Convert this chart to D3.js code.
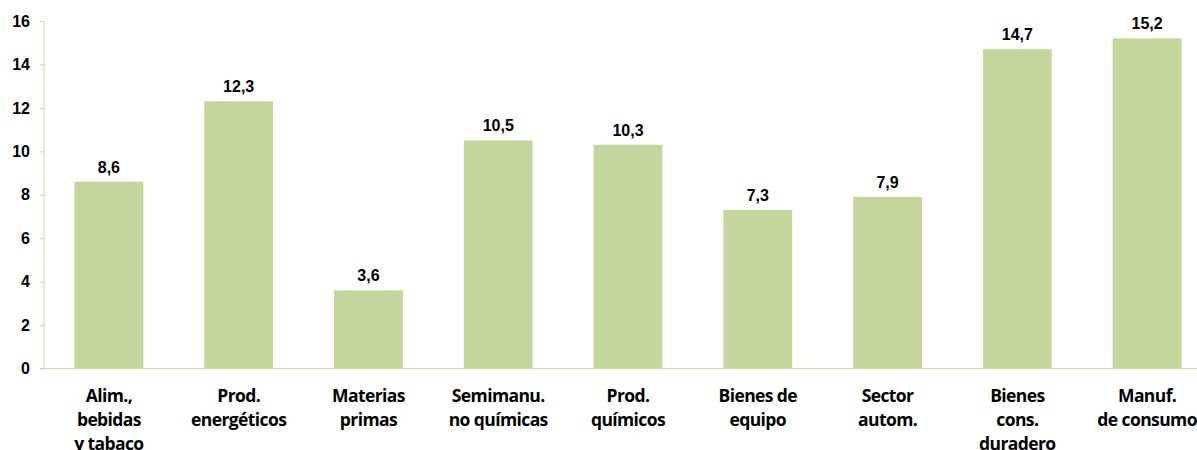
<!DOCTYPE html>
<html>
<head>
<meta charset="utf-8">
<script src="https://cdn.jsdelivr.net/npm/d3@7"></script>
<style>
  body { margin: 0; background: #fff; }
</style>
</head>
<body>
<script>
const categories = [
    ["Alim.,", "bebidas", "y tabaco"],
    ["Prod.", "energéticos"],
    ["Materias", "primas"],
    ["Semimanu.", "no químicas"],
    ["Prod.", "químicos"],
    ["Bienes de", "equipo"],
    ["Sector", "autom."],
    ["Bienes", "cons.", "duradero"],
    ["Manuf.", "de consumo"]
];
const values = [8.6, 12.3, 3.6, 10.5, 10.3, 7.3, 7.9, 14.7, 15.2];
const yTicks = [0, 2, 4, 6, 8, 10, 12, 14, 16];

const width = 1197, height = 450;
const margin = {top: 21, left: 44, bottom: 81};
const plotRight = 1212;
const axisColor = "#c9dca6";
const barColor = "#c3d69b";

const svg = d3.select("body").append("svg")
    .attr("width", width)
    .attr("height", height);

const keys = categories.map((d, i) => "c" + i);

const xScale = d3.scaleBand()
    .domain(keys)
    .range([margin.left, plotRight])
    .paddingInner(0.47)
    .paddingOuter(0.235);

const yScale = d3.scaleLinear()
    .domain([0, 16])
    .range([height - margin.bottom - 0.5, margin.top]);

// y axis
const yAxis = d3.axisLeft(yScale).tickValues(yTicks).tickSize(4).tickPadding(10).tickFormat(d => d);
const gy = svg.append("g")
    .attr("transform", "translate(" + margin.left + ",0)")
    .call(yAxis);
gy.select(".domain").attr("stroke", axisColor).attr("d", "M0," + yScale(16) + "V" + yScale(0));
gy.selectAll(".tick line").attr("stroke", axisColor);
gy.selectAll(".tick text")
    .style("font-family", '"Liberation Sans", Arial, sans-serif')
    .style("font-weight", "bold")
    .style("font-size", "16px")
    .attr("fill", "#000");

// bars
svg.selectAll("rect.bar")
    .data(values)
    .enter()
    .append("rect")
    .attr("class", "bar")
    .attr("fill", barColor)
    .attr("x", (d, i) => xScale(keys[i]))
    .attr("width", xScale.bandwidth())
    .attr("y", d => yScale(d))
    .attr("height", d => yScale(0) - yScale(d));

// x axis line
svg.append("line")
    .attr("x1", margin.left - 4)
    .attr("x2", width)
    .attr("y1", yScale(0))
    .attr("y2", yScale(0))
    .attr("stroke", axisColor);

// value labels
svg.selectAll("text.val")
    .data(values)
    .enter()
    .append("text")
    .attr("class", "val")
    .attr("x", (d, i) => xScale(keys[i]) + xScale.bandwidth() / 2)
    .attr("y", d => yScale(d) - 9)
    .attr("text-anchor", "middle")
    .style("font-family", '"Liberation Sans", Arial, sans-serif')
    .style("font-weight", "bold")
    .style("font-size", "16px")
    .text(d => String(d.toFixed(1)).replace(".", ","));

// category labels
const lbl = svg.selectAll("text.cat")
    .data(categories)
    .enter()
    .append("text")
    .attr("class", "cat")
    .attr("text-anchor", "middle")
    .style("font-family", '"Open Sans", sans-serif')
    .style("font-weight", "bold")
    .style("font-size", "17.5px")
    .style("letter-spacing", "-0.6px")
    .attr("transform", (d, i) => "translate(" + (xScale(keys[i]) + xScale.bandwidth() / 2) + ",402)");

lbl.selectAll("tspan")
    .data(d => d)
    .enter()
    .append("tspan")
    .attr("x", 0)
    .attr("y", (d, j) => j * 24)
    .text(d => d);
</script>
</body>
</html>
